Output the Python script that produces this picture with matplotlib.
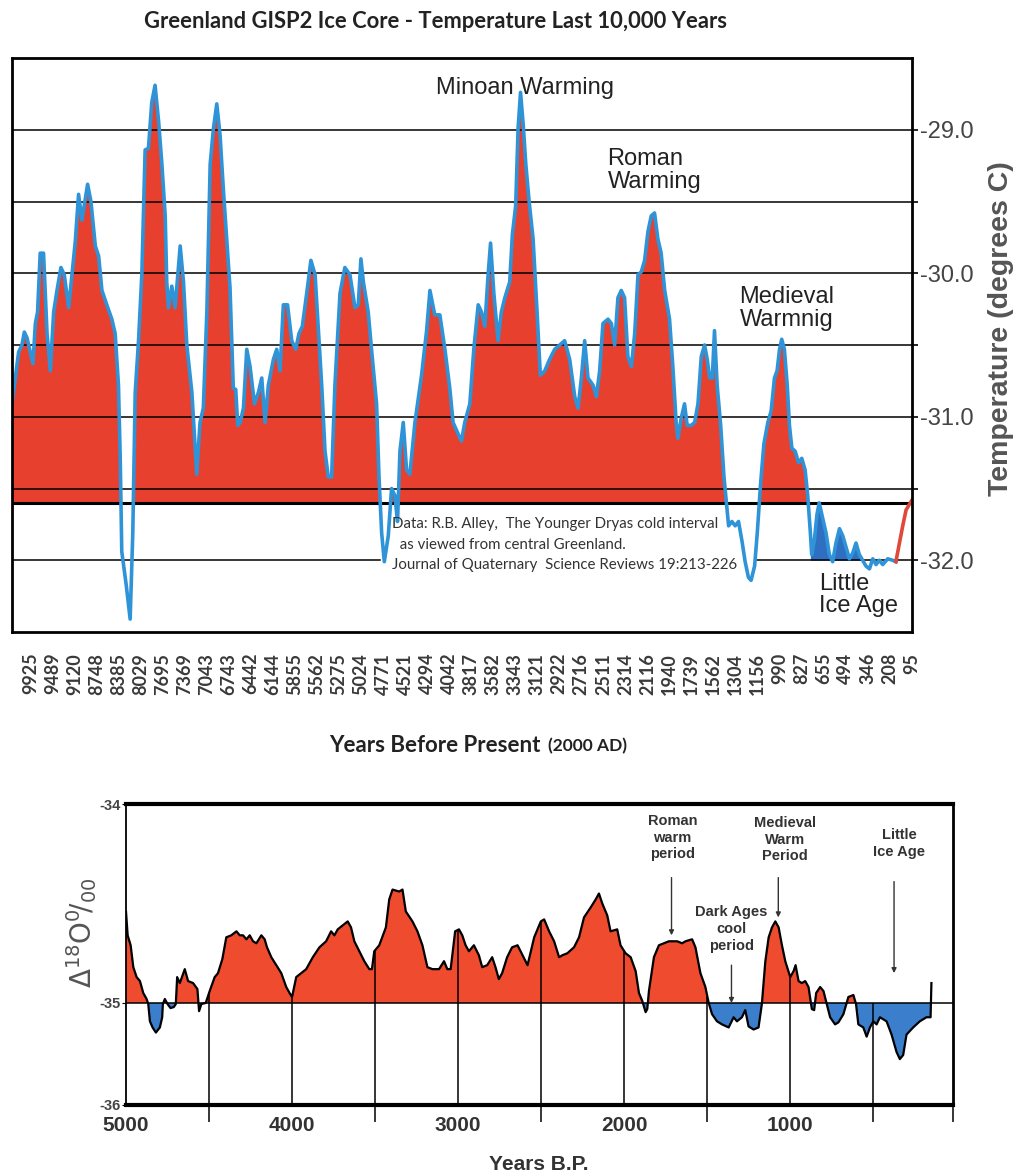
import numpy as np
import matplotlib
matplotlib.use("Agg")
import matplotlib.pyplot as plt

# ---- top chart: GISP2 temperature, plotted on a category axis ----
tick_years = ["9925", "9489", "9120", "8748", "8385", "8029", "7695", "7369", "7043", "6743",
              "6442", "6144", "5855", "5562", "5275", "5024", "4771", "4521", "4294", "4042",
              "3817", "3582", "3343", "3121", "2922", "2716", "2511", "2314", "2116", "1940",
              "1739", "1562", "1304", "1156", "990", "827", "655", "494", "346", "208", "95"]

# position along the category axis (tick index units)
gisp_pos = [-0.83, -0.68, -0.53, -0.38, -0.27, -0.15, -0.03, 0.12, 0.23, 0.33,
            0.45, 0.60, 0.76, 0.91, 1.06, 1.21, 1.39, 1.54, 1.74, 1.89,
            2.04, 2.19, 2.34, 2.60, 2.75, 2.95, 3.10, 3.25, 3.47, 3.70,
            3.85, 4.00, 4.08, 4.15, 4.35, 4.53, 4.65, 4.76, 4.91, 5.06,
            5.21, 5.36, 5.51, 5.66, 5.82, 5.97, 6.12, 6.19, 6.27, 6.42,
            6.57, 6.80, 6.95, 7.10, 7.33, 7.55, 7.70, 7.85, 8.01, 8.16,
            8.31, 8.46, 8.61, 8.76, 8.91, 9.06, 9.21, 9.32, 9.41, 9.52,
            9.67, 9.82, 9.97, 10.17, 10.35, 10.50, 10.65, 10.80, 11.03, 11.18,
            11.33, 11.48, 11.67, 11.86, 12.04, 12.19, 12.34, 12.54, 12.73, 12.92,
            13.07, 13.22, 13.37, 13.52, 13.67, 13.82, 14.05, 14.27, 14.50, 14.73,
            14.88, 15.00, 15.11, 15.33, 15.48, 15.71, 15.82, 15.94, 16.06, 16.24,
            16.39, 16.54, 16.66, 16.77, 16.92, 17.07, 17.22, 17.45, 17.75, 17.98,
            18.13, 18.35, 18.58, 18.81, 19.03, 19.18, 19.41, 19.56, 19.71, 19.94,
            20.12, 20.32, 20.47, 20.62, 20.77, 20.88, 21.03, 21.22, 21.37, 21.53,
            21.75, 21.87, 22.02, 22.13, 22.24, 22.36, 22.48, 22.63, 22.81, 22.99,
            23.14, 23.34, 23.56, 23.79, 24.02, 24.24, 24.47, 24.70, 24.85, 25.00,
            25.15, 25.30, 25.53, 25.68, 25.83, 25.98, 26.21, 26.36, 26.51, 26.66,
            26.81, 26.96, 27.11, 27.27, 27.42, 27.57, 27.72, 27.87, 28.02, 28.17,
            28.32, 28.47, 28.62, 28.78, 29.00, 29.15, 29.30, 29.38, 29.53, 29.68,
            29.80, 29.98, 30.14, 30.29, 30.44, 30.59, 30.71, 30.82, 30.94, 31.04,
            31.16, 31.32, 31.47, 31.57, 31.68, 31.83, 31.98, 32.13, 32.28, 32.43,
            32.58, 32.70, 32.86, 32.98, 33.13, 33.28, 33.46, 33.61, 33.76, 33.88,
            33.99, 34.09, 34.21, 34.34, 34.44, 34.55, 34.70, 34.85, 35.00, 35.15,
            35.27, 35.39, 35.45, 35.57, 35.69, 35.79, 35.95, 36.10, 36.25, 36.40,
            36.55, 36.71, 36.86, 37.01, 37.16, 37.31, 37.46, 37.61, 37.76, 37.91,
            38.07, 38.22, 38.37, 38.52, 38.67, 38.90, 39.12, 39.27, 39.43, 39.58,
            39.73, 40.0]

gisp_temp = [-30.91, -30.73, -30.55, -30.50, -30.41, -30.45, -30.53, -30.63, -30.35, -30.27,
             -29.86, -29.86, -30.42, -30.68, -30.27, -30.12, -29.96, -30.01, -30.24, -30.01,
             -29.78, -29.45, -29.63, -29.38, -29.50, -29.81, -29.88, -30.12, -30.22, -30.32,
             -30.42, -30.78, -31.29, -31.94, -32.17, -32.41, -31.81, -30.83, -30.47, -30.01,
             -29.14, -29.13, -28.81, -28.69, -28.94, -29.24, -29.60, -30.06, -30.24, -30.09,
             -30.24, -29.81, -30.06, -30.50, -30.83, -31.40, -31.04, -30.94, -30.27, -29.24,
             -28.99, -28.82, -29.04, -29.42, -29.76, -30.10, -30.80, -30.81, -31.06, -31.04,
             -30.94, -30.53, -30.65, -30.91, -30.83, -30.73, -31.04, -30.78, -30.60, -30.53,
             -30.68, -30.22, -30.22, -30.47, -30.53, -30.42, -30.37, -30.14, -29.91, -30.01,
             -30.40, -30.78, -31.24, -31.42, -31.42, -30.78, -30.14, -29.96, -30.01, -30.24,
             -30.22, -29.90, -30.06, -30.27, -30.53, -30.91, -31.42, -31.81, -32.01, -31.83,
             -31.50, -31.55, -31.73, -31.24, -31.04, -31.37, -31.40, -31.04, -30.71, -30.40,
             -30.12, -30.29, -30.29, -30.53, -30.80, -31.04, -31.12, -31.17, -31.04, -30.91,
             -30.53, -30.22, -30.27, -30.37, -30.01, -29.79, -30.14, -30.47, -30.27, -30.17,
             -30.06, -29.73, -29.53, -28.99, -28.74, -28.96, -29.24, -29.50, -29.76, -30.27,
             -30.71, -30.68, -30.60, -30.53, -30.50, -30.47, -30.60, -30.86, -30.94, -30.73,
             -30.47, -30.73, -30.78, -30.86, -30.68, -30.35, -30.32, -30.35, -30.50, -30.17,
             -30.12, -30.17, -30.58, -30.65, -30.42, -30.01, -29.99, -29.91, -29.71, -29.60,
             -29.58, -29.76, -29.86, -30.12, -30.32, -30.65, -31.04, -31.15, -31.01, -30.91,
             -31.06, -31.06, -31.04, -30.91, -30.58, -30.50, -30.60, -30.73, -30.73, -30.40,
             -30.78, -31.06, -31.42, -31.58, -31.76, -31.73, -31.76, -31.73, -31.86, -32.01,
             -32.12, -32.14, -32.04, -31.81, -31.47, -31.19, -31.04, -30.96, -30.73, -30.68,
             -30.53, -30.46, -30.53, -30.78, -31.06, -31.22, -31.24, -31.32, -31.29, -31.37,
             -31.55, -31.81, -31.96, -31.86, -31.68, -31.60, -31.71, -31.81, -31.96, -32.01,
             -31.88, -31.78, -31.83, -31.91, -31.99, -31.95, -31.88, -31.96, -32.00, -32.04,
             -32.06, -31.99, -32.03, -32.00, -32.03, -31.99, -32.00, -32.01, -31.88, -31.76,
             -31.65, -31.58]

gisp_base = -31.6
lia_start, lia_end = 35.3, 39.27

# ---- bottom chart: delta 18O, years B.P. ----
bp_years = [5000, 4990, 4972, 4956, 4936, 4916, 4896, 4876, 4866, 4856,
            4840, 4820, 4796, 4782, 4778, 4766, 4750, 4732, 4712, 4700,
            4692, 4676, 4646, 4626, 4596, 4570, 4560, 4546, 4520, 4496,
            4466, 4446, 4420, 4396, 4366, 4335, 4315, 4295, 4275, 4255,
            4235, 4215, 4185, 4165, 4151, 4125, 4095, 4065, 4035, 4015,
            4000, 3975, 3945, 3915, 3875, 3835, 3795, 3765, 3745, 3725,
            3695, 3665, 3645, 3625, 3595, 3565, 3535, 3519, 3505, 3475,
            3435, 3415, 3395, 3355, 3335, 3315, 3275, 3245, 3215, 3185,
            3155, 3115, 3085, 3065, 3045, 3018, 2995, 2975, 2955, 2935,
            2905, 2875, 2855, 2825, 2795, 2775, 2755, 2735, 2705, 2675,
            2642, 2612, 2582, 2542, 2502, 2482, 2452, 2422, 2392, 2372,
            2342, 2302, 2272, 2242, 2202, 2172, 2152, 2132, 2102, 2082,
            2042, 2022, 1992, 1961, 1931, 1911, 1891, 1871, 1861, 1851,
            1821, 1791, 1761, 1731, 1701, 1681, 1651, 1631, 1591, 1571,
            1541, 1511, 1491, 1471, 1441, 1411, 1371, 1341, 1321, 1291,
            1271, 1251, 1221, 1191, 1171, 1150, 1130, 1110, 1090, 1070,
            1050, 1030, 1000, 980, 968, 950, 930, 910, 890, 870,
            856, 844, 820, 800, 780, 760, 730, 710, 680, 650,
            620, 604, 590, 560, 540, 520, 500, 480, 460, 420,
            390, 360, 340, 320, 300, 260, 220, 180, 155, 150]

bp_d18o = [-34.54, -34.66, -34.71, -34.82, -34.87, -34.89, -34.95, -34.98, -35.01, -35.18,
           -35.24, -35.29, -35.24, -35.14, -35.01, -34.98, -35.01, -35.05, -35.04, -35.01,
           -34.87, -34.90, -34.83, -34.89, -34.90, -34.93, -35.08, -35.01, -35.00, -34.94,
           -34.87, -34.85, -34.78, -34.67, -34.66, -34.64, -34.66, -34.66, -34.68, -34.66,
           -34.69, -34.70, -34.66, -34.68, -34.72, -34.77, -34.81, -34.85, -34.92, -34.95,
           -34.97, -34.87, -34.85, -34.83, -34.77, -34.72, -34.69, -34.64, -34.66, -34.63,
           -34.61, -34.59, -34.62, -34.69, -34.74, -34.79, -34.83, -34.83, -34.74, -34.71,
           -34.62, -34.48, -34.43, -34.44, -34.43, -34.54, -34.59, -34.64, -34.71, -34.82,
           -34.83, -34.83, -34.79, -34.83, -34.83, -34.64, -34.63, -34.66, -34.71, -34.74,
           -34.71, -34.76, -34.82, -34.81, -34.77, -34.82, -34.88, -34.85, -34.77, -34.72,
           -34.71, -34.76, -34.81, -34.67, -34.59, -34.58, -34.64, -34.69, -34.77, -34.76,
           -34.75, -34.72, -34.67, -34.57, -34.52, -34.48, -34.45, -34.50, -34.56, -34.64,
           -34.63, -34.71, -34.75, -34.77, -34.84, -34.95, -34.99, -35.09, -35.06, -34.94,
           -34.77, -34.71, -34.70, -34.69, -34.69, -34.69, -34.70, -34.69, -34.68, -34.72,
           -34.85, -34.92, -35.00, -35.11, -35.18, -35.21, -35.24, -35.14, -35.18, -35.14,
           -35.07, -35.23, -35.26, -35.24, -35.01, -34.79, -34.67, -34.62, -34.59, -34.62,
           -34.71, -34.79, -34.87, -34.84, -34.81, -34.89, -34.90, -34.89, -34.92, -35.06,
           -35.07, -34.95, -34.92, -34.94, -35.01, -35.14, -35.21, -35.19, -35.11, -34.97,
           -34.96, -35.01, -35.21, -35.24, -35.33, -35.24, -35.18, -35.21, -35.14, -35.18,
           -35.31, -35.48, -35.55, -35.51, -35.31, -35.24, -35.18, -35.14, -35.14, -34.90]

bp_base = -35.0
bp_grid_years = [4500, 4000, 3500, 3000, 2500, 2000, 1500, 1000, 500]

RED = "#e8402f"
BLUE_LINE = "#2f93d8"
LIA_BLUE = "#2f6fc2"
B_RED = "#ef4b2f"
B_BLUE = "#3b7fcc"

pos = np.array(gisp_pos)
temp = np.array(gisp_temp)
yrs = np.array(bp_years)
d18 = np.array(bp_d18o)

fig = plt.figure(figsize=(10.19, 11.75), dpi=100)
W, H = 1019, 1175

# ================= top chart =================
ax1 = fig.add_axes([12 / W, 1 - 632 / H, 900 / W, 574 / H])
ax1.fill_between(pos, temp, gisp_base, where=temp >= gisp_base, interpolate=True,
                 color=RED, lw=0, zorder=1)
lia = (pos >= lia_start) & (pos <= lia_end)
ax1.fill_between(pos, np.maximum(temp, -32.0), -32.0, where=lia, color=LIA_BLUE,
                 lw=0, zorder=1)

for g in [-29.0, -29.5, -30.0, -30.5, -31.0, -31.5]:
    ax1.axhline(g, color="black", lw=1.1, zorder=2)
# -32 line is hidden behind the citation text in the original
ax1.axhline(-32.0, xmin=0, xmax=(380 - 12) / 900, color="black", lw=1.1, zorder=2)
ax1.axhline(-32.0, xmin=(757 - 12) / 900, xmax=1, color="black", lw=1.1, zorder=2)
ax1.axhline(gisp_base, color="black", lw=2.2, zorder=3)

tail = pos >= lia_end
ax1.plot(pos[pos <= lia_end], temp[pos <= lia_end], color=BLUE_LINE, lw=2.6, zorder=4,
         solid_joinstyle="round")
ax1.plot(pos[tail], temp[tail], color="#e0483a", lw=2.6, zorder=4)

ax1.set_xlim(-0.83, 40)
ax1.set_ylim(-32.5, -28.5)
ax1.yaxis.tick_right()
ax1.set_yticks([-29, -30, -31, -32])
ax1.set_yticklabels(["-29.0", "-30.0", "-31.0", "-32.0"], fontfamily="Liberation Sans",
                    fontsize=17, color="#444444")
ax1.set_yticks(np.arange(-32.0, -28.9, 0.5), minor=True)
ax1.tick_params(axis="y", which="both", direction="out", length=4, width=1.2, pad=2,
                right=True, left=False)
ax1.set_xticks(range(len(tick_years)))
ax1.set_xticklabels(tick_years, rotation=90, fontfamily="Lato", fontweight="bold",
                    fontsize=13, color="#3a3a3a")
ax1.tick_params(axis="x", length=0, pad=15)
for s in ax1.spines.values():
    s.set_linewidth(2)
    s.set_color("black")
    s.set_zorder(5)

ann = dict(fontfamily="Liberation Sans", fontsize=17, color="#222222", zorder=6)
ax1.text(22.43, -28.71, "Minoan Warming", ha="center", va="center", **ann)
ax1.text(26.19, -29.13, "Roman\nWarming", ha="left", va="top", linespacing=1.05, **ann)
ax1.text(32.17, -30.09, "Medieval\nWarmnig", ha="left", va="top", linespacing=1.05, **ann)
ax1.text(35.8, -32.09, "Little\nIce Age", ha="left", va="top", linespacing=1.0, **ann)
ax1.text(16.4, -31.7,
         "Data: R.B. Alley,  The Younger Dryas cold interval\n"
         "  as viewed from central Greenland.\n"
         "Journal of Quaternary  Science Reviews 19:213-226",
         ha="left", va="top", fontfamily="Lato", fontsize=10.8, color="#333333",
         linespacing=1.6, zorder=6)

fig.text(435 / W, 1 - 22 / H, "Greenland GISP2 Ice Core - Temperature Last 10,000 Years",
         ha="center", va="center", fontfamily="Lato", fontweight="bold", fontsize=15.8,
         color="#222222")
fig.text(546 / W, 1 - 745 / H, "Years Before Present ", ha="right", va="center",
         fontfamily="Lato", fontweight="bold", fontsize=16, color="#222222")
fig.text(548 / W, 1 - 746 / H, "(2000 AD)", ha="left", va="center",
         fontfamily="Lato", fontweight="bold", fontsize=12.5, color="#222222")
fig.text(1001 / W, 1 - 329 / H, "Temperature (degrees C)", rotation=90, ha="center",
         va="center", fontfamily="Liberation Sans", fontweight="bold", fontsize=20.5,
         color="#555555")

# ================= bottom chart =================
STRETCH = 1.95  # upper half of the axis is drawn about twice as tall as the lower half


def fwd(v):
    v = np.asarray(v, dtype=float)
    return np.where(v > bp_base, (v - bp_base) * STRETCH, v - bp_base)


def inv(u):
    u = np.asarray(u, dtype=float)
    return np.where(u > 0, u / STRETCH + bp_base, u + bp_base)


ax2 = fig.add_axes([126 / W, 1 - 1105 / H, 827 / W, 301 / H])
ax2.set_yscale("function", functions=(fwd, inv))
ax2.fill_between(yrs, d18, bp_base, where=d18 >= bp_base, interpolate=True,
                 color=B_RED, lw=0, zorder=1)
ax2.fill_between(yrs, d18, bp_base, where=d18 <= bp_base, interpolate=True,
                 color=B_BLUE, lw=0, zorder=1)
ax2.axhline(bp_base, color="black", lw=1.1, zorder=2)
tops = np.maximum(np.interp(bp_grid_years, yrs[::-1], d18[::-1]), bp_base)
ax2.vlines(bp_grid_years, -36, tops, color="black", lw=1.1, zorder=2)
ax2.plot(yrs, d18, color="black", lw=1.6, zorder=3)

ax2.set_xlim(5000, 20)
ax2.set_ylim(-36, -34)
ax2.set_xticks([5000, 4000, 3000, 2000, 1000])
ax2.set_xticklabels(["5000", "4000", "3000", "2000", "1000"], fontfamily="Liberation Sans",
                    fontweight="bold", fontsize=15, color="#333333")
ax2.set_xticks([4500, 3500, 2500, 1500, 500, 20], minor=True)
ax2.tick_params(axis="x", which="major", length=0, pad=8)
ax2.tick_params(axis="x", which="minor", length=12, width=1.1, direction="out")
ax2.set_yticks([-34, -35, -36])
ax2.set_yticklabels(["-34", "-35", "-36"], fontfamily="Liberation Sans",
                    fontweight="bold", fontsize=10.5, color="#444444")
ax2.yaxis.set_minor_locator(matplotlib.ticker.NullLocator())
ax2.tick_params(axis="y", length=3, pad=1)
ax2.spines["top"].set_linewidth(3)
ax2.spines["bottom"].set_linewidth(3)
ax2.spines["left"].set_linewidth(1.3)
ax2.spines["right"].set_linewidth(2)

lab = dict(fontfamily="Liberation Sans", fontweight="bold", fontsize=10.5,
           color="#333333", ha="center", va="top", linespacing=1.25)
arr = dict(arrowstyle="-|>", color="#333333", lw=1.0, mutation_scale=7,
           shrinkA=0, shrinkB=0)
ax2.text(1709, -34.05, "Roman\nwarm\nperiod", **lab)
ax2.annotate("", xy=(1715, -34.66), xytext=(1715, -34.37), arrowprops=arr)
ax2.text(1030, -34.06, "Medieval\nWarm\nPeriod", **lab)
ax2.annotate("", xy=(1072, -34.57), xytext=(1072, -34.37), arrowprops=arr)
ax2.text(1354, -34.51, "Dark Ages\ncool\nperiod", **lab)
ax2.annotate("", xy=(1354, -35.0), xytext=(1354, -34.81), arrowprops=arr)
ax2.text(345, -34.12, "Little\nIce Age", **lab)
ax2.annotate("", xy=(375, -34.85), xytext=(375, -34.39), arrowprops=arr)

fig.text(82 / W, 1 - 933 / H, r"$\Delta^{18}\mathrm{O}^{0}\!/_{00}$", rotation=90,
         ha="center", va="center", fontsize=20, color="#555555")
fig.text(539 / W, 1 - 1165 / H, "Years B.P.", ha="center", va="center",
         fontfamily="Liberation Sans", fontweight="bold", fontsize=15, color="#333333")

fig.savefig("out.png", dpi=100, facecolor="white")
